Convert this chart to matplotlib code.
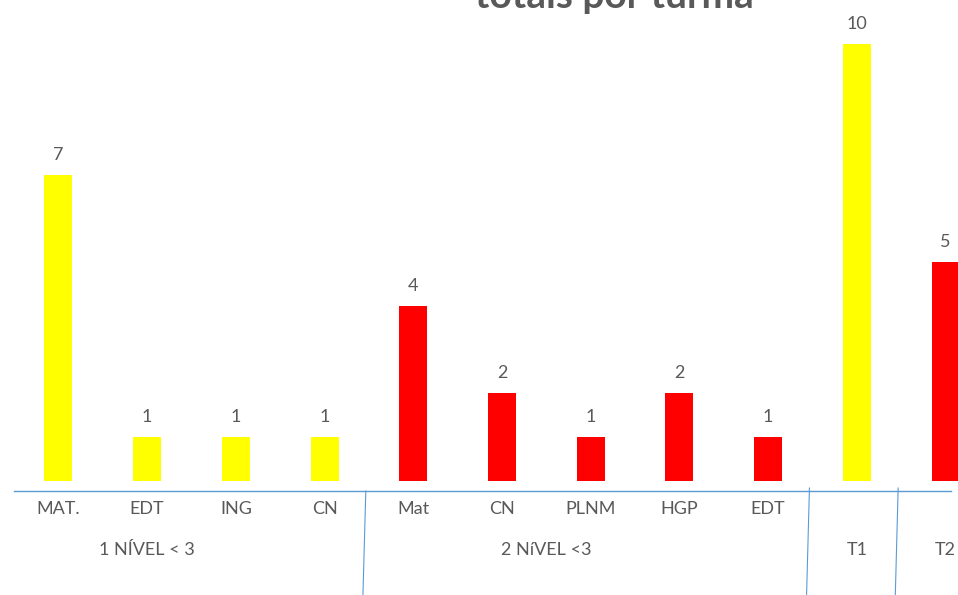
import matplotlib
matplotlib.use("Agg")
import matplotlib.pyplot as plt
import matplotlib.transforms as mtransforms

# data
categories = ["MAT.", "EDT", "ING", "CN", "Mat", "CN", "PLNM", "HGP", "EDT", "", ""]
values = [7, 1, 1, 1, 4, 2, 1, 2, 1, 10, 5]
bar_colors = ["#FFFF00"] * 4 + ["#FF0000"] * 5 + ["#FFFF00", "#FF0000"]
groups = ["1 NÍVEL < 3", "2 NíVEL <3", "T1", "T2"]
group_pos = [1, 5.5, 9, 10]
group_breaks = [3.5, 8.5, 9.5]

text_color = "#595959"
axis_color = "#5B9BD5"
plt.rcParams["font.family"] = ["Lato", "DejaVu Sans"]
fs = 13

W, H = 958, 595
fig = plt.figure(figsize=(W / 100, H / 100), dpi=100)

# plot area in pixels: x from 14 to 990 (cut by the image edge), y from 0 to 491
ax = fig.add_axes([14 / W, (H - 491) / H, 976 / W, 491 / H])
x = range(len(categories))
bars = ax.bar(x, values, width=0.316, color=bar_colors, zorder=2)
ax.set_xlim(-0.5, 10.5)
ax.set_ylim(-0.23, 11)
ax.axis("off")
ax.axhline(-0.23, xmin=0, xmax=(951 - 14) / 976, color=axis_color, lw=1, clip_on=False)

trans = mtransforms.blended_transform_factory(ax.transData, ax.transAxes)

# value labels
for b, v in zip(bars, values):
    ax.annotate(str(v), (b.get_x() + b.get_width() / 2, v), xytext=(0, 10.8),
                textcoords="offset points", ha="center", va="baseline",
                color=text_color, fontsize=fs)

# first level category labels
for i, name in enumerate(categories):
    ax.annotate(name, (i, 0), xycoords=trans, xytext=(0, -16.6),
                textcoords="offset points", ha="center", va="baseline",
                color=text_color, fontsize=fs, annotation_clip=False)

# second level group labels
for name, p in zip(groups, group_pos):
    ax.annotate(name, (p, 0), xycoords=trans, xytext=(0, -46),
                textcoords="offset points", ha="center", va="baseline",
                color=text_color, fontsize=fs, annotation_clip=False)

for i, bx in enumerate(group_breaks):
    top = 0 if i == 0 else 0.006
    ax.plot([bx - 0.035, bx - 0.07], [top, -0.23], transform=trans,
            color=axis_color, lw=0.8, clip_on=False)

fig.text(614 / W, 1 - 8 / H, "totais por turma", ha="center", va="baseline",
         fontsize=28, fontweight="bold", color=text_color)

fig.savefig("out.png", dpi=100)
